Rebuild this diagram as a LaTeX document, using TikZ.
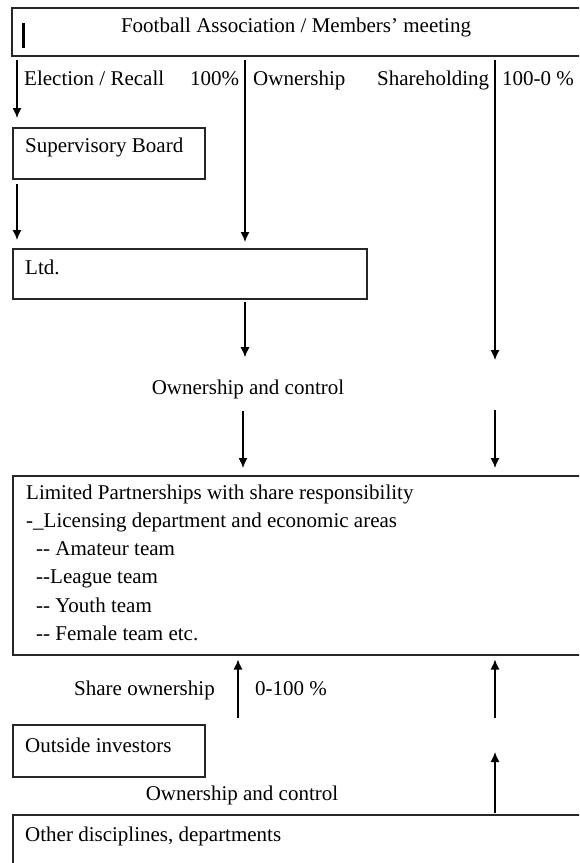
\documentclass[tikz,border=0pt]{standalone}
\usepackage{fontspec}
\setmainfont{Liberation Serif}
\usetikzlibrary{arrows.meta,positioning,calc}

\begin{document}
\begin{tikzpicture}[x=1pt, y=-1pt, font=\fontsize{21}{24}\selectfont,
    box/.style={draw=black!85, line width=1.5pt, anchor=north west, inner sep=0pt},
    txt/.style={anchor=base west, inner sep=0pt},
    lbl/.style={anchor=base, inner sep=0pt},
    flow/.style={draw, line width=1.3pt, -{Latex[length=10pt,width=9pt]}}]
      \clip (0,0) rectangle (579,863);
      %boxes
      \node[box, minimum width=600pt, minimum height=48pt] (fa) at (11,7) {};
      \node[box, minimum width=192pt, minimum height=51pt] (sb) at (12,127) {};
      \node[box, minimum width=354pt, minimum height=50pt] (ltd) at (12,248) {};
      \node[box, minimum width=600pt, minimum height=179pt] (lp) at (12,475) {};
      \node[box, minimum width=192pt, minimum height=52pt] (oi) at (12,724) {};
      \node[box, minimum width=600pt, minimum height=80pt] (od) at (12,814) {};
      %texts
      \node[lbl] (fatxt) at (296,32) {Football Association / Members' meeting};
      \draw[line width=3pt] ($(fa.north west)+(12,16)$) -- ++(0,25);
      \node[txt] (elect) at (24,85) {Election / Recall};
      \node[txt] (pct) at (190,85) {100\%};
      \node[txt] (own) at (253,85) {Ownership};
      \node[txt] (share) at (377,85) {Shareholding};
      \node[txt] (pctr) at (502,85) {100-0 \%};
      \node[txt] (sbtxt) at (25,152) {Supervisory Board};
      \node[txt] (ltdtxt) at (25,274) {Ltd.};
      \node[lbl] (occ1) at (248,394) {Ownership and control};
      \node[txt] (lp1) at (26,499) {Limited Partnerships with share responsibility};
      \node[txt] (lp2) at (26,527) {-\_Licensing department and economic areas};
      \node[txt] (lp3) at (36,555) {-{}- Amateur team};
      \node[txt] (lp4) at (36,583) {-{}-League team};
      \node[txt] (lp5) at (36,612) {-{}- Youth team};
      \node[txt] (lp6) at (36,640) {-{}- Female team etc.};
      \node[txt] (shown) at (74,695) {Share ownership};
      \node[txt] (pctl) at (255,695) {0-100 \%};
      \node[txt] (oitxt) at (25,752) {Outside investors};
      \node[lbl] (occ2) at (242,800) {Ownership and control};
      \node[txt] (odtxt) at (25,841) {Other disciplines, departments};
      %free ends
      \coordinate (r1) at (495,360);
      \coordinate (r2) at (495,410);
      \coordinate (r3) at (495,718);
      \coordinate (r4) at (495,752);
      %edges
      \path[flow] ($(fa.south west)+(6,3)$) to ($(sb.north west)+(5,-9)$);
      \path[flow] ($(sb.south west)+(5,4)$) to ($(ltd.north west)+(5,-8)$);
      \path[flow] ($(fa.south west)+(234,3)$) to ($(ltd.north west)+(233,-6)$);
      \path[flow] ($(ltd.south west)+(233,2)$) to ($(occ1.north)+(-3,-22)$);
      \path[flow] ($(fa.south west)+(484,3)$) to (r1);
      \path[flow] ($(occ1.south)+(-5,12)$) to ($(lp.north west)+(231,-7)$);
      \path[flow] (r2) to ($(lp.north west)+(483,-7)$);
      \path[flow] ($(oi.north west)+(226,-6)$) to ($(lp.south west)+(226,4)$);
      \path[flow] (r3) to ($(lp.south west)+(483,4)$);
      \path[flow] ($(od.north west)+(483,-1)$) to (r4);
\end{tikzpicture}
\end{document}
